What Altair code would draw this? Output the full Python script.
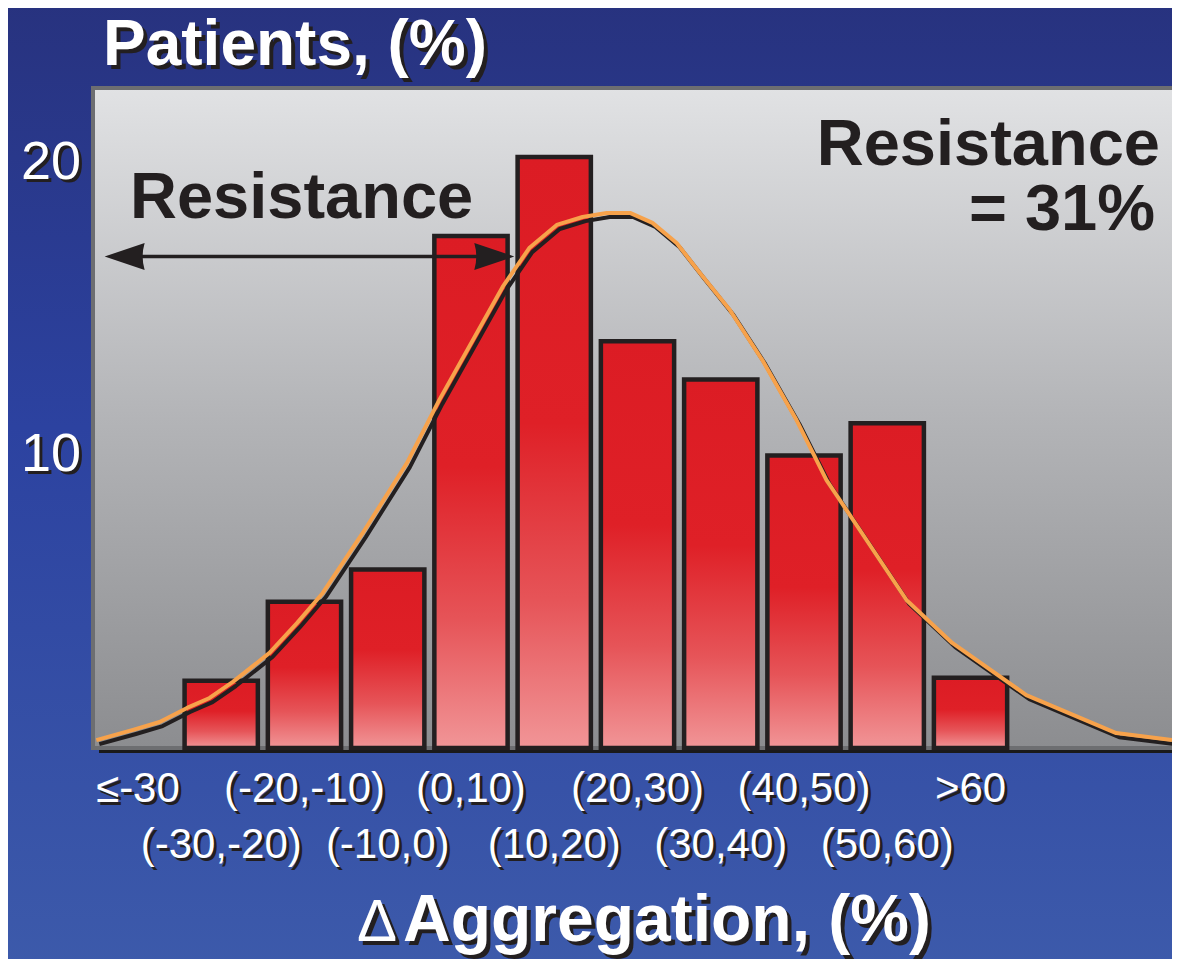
import altair as alt
import pandas as pd

# ---------------- data ----------------
categories = ["≤-30", "(-30,-20)", "(-20,-10)", "(-10,0)", "(0,10)", "(10,20)",
              "(20,30)", "(30,40)", "(40,50)", "(50,60)", ">60"]
bin_centers = [-35, -25, -15, -5, 5, 15, 25, 35, 45, 55, 65]
patients_pct = [0, 2.3, 5.0, 6.1, 17.5, 20.2, 13.9, 12.6, 10.0, 11.1, 2.4]

curve_x = [-40.0, -35.6, -32.4, -29.1, -26.4, -23.6, -19.2, -15.9, -12.8, -8.0,
           -2.7, 1.2, 8.8, 12.0, 15.3, 18.4, 21.3, 24.1, 26.8, 29.7,
           32.5, 36.1, 40.0, 44.1, 47.7, 57.3, 62.8, 71.7, 82.5, 89.2]
curve_y = [0.27, 0.62, 0.89, 1.37, 1.71, 2.26, 3.25, 4.27, 5.30, 7.35,
           9.74, 11.90, 15.76, 17.09, 17.88, 18.15, 18.29, 18.29, 17.95, 17.26,
           16.24, 14.97, 13.26, 11.21, 9.16, 5.06, 3.59, 1.81, 0.51, 0.27]

y_ticks = [10, 20]
arrow_from = -39.0
arrow_to = 10.2
arrow_level = 16.8
resistance_pct = 31

# ---------------- layout ----------------
W, H = 1079, 660
XS = alt.Scale(domain=[-40.4, 89.2], nice=False, zero=False)
YS = alt.Scale(domain=[0, 22.56], nice=False, zero=False)
FONT = "Liberation Sans, Arial, Helvetica, sans-serif"
INK = "#231f20"

bars_df = pd.DataFrame({"label": categories, "center": bin_centers, "pct": patients_pct})
bars_df["row"] = [i % 2 for i in range(len(categories))]
curve_df = pd.DataFrame({"x": curve_x, "y": curve_y, "i": list(range(len(curve_x)))})
ticks_df = pd.DataFrame({"v": y_ticks})
one = pd.DataFrame({"a": [0]})


def grad(stops):
    return alt.LinearGradient(
        gradient="linear", x1=0, x2=0, y1=0, y2=1,
        stops=[alt.GradientStop(offset=o, color=c) for o, c in stops])


blue_bg = alt.Chart(one).mark_rect(
    fill=grad([(0, "#27317c"), (0.45, "#2c42a0"), (1, "#3d5bab")])
).encode(x=alt.value(-120), x2=alt.value(1200), y=alt.value(-120), y2=alt.value(900))

bottom_shadow = alt.Chart(one).mark_rect(color="#1a1a1a").encode(
    x=alt.value(6), x2=alt.value(1200), y=alt.value(658), y2=alt.value(665))

gray_box = alt.Chart(one).mark_rect(
    fill=grad([(0, "#e1e2e4"), (0.5, "#b3b4b7"), (1, "#8c8d90")]),
    stroke="#6d6e71", strokeWidth=4
).encode(x=alt.value(0), x2=alt.value(1200), y=alt.value(0), y2=alt.value(H))

bars = alt.Chart(bars_df).transform_filter("datum.pct > 0").transform_calculate(
    x0="datum.center - 4.4", x1="datum.center + 4.4", base="0"
).mark_bar(
    fill=grad([(0, "#dc1c24"), (0.45, "#df2027"), (0.75, "#e65458"), (1, "#f19597")]),
    stroke=INK, strokeWidth=4.5
).encode(
    x=alt.X("x0:Q", scale=XS, axis=None), x2="x1:Q",
    y=alt.Y("pct:Q", scale=YS, axis=None), y2="base:Q")

curve_shadow = alt.Chart(curve_df).transform_calculate(
    xs="datum.x + 0.36", ys="datum.y - 0.14"
).mark_line(color=INK, strokeWidth=4, strokeJoin="round").encode(
    x=alt.X("xs:Q", scale=XS, axis=None), y=alt.Y("ys:Q", scale=YS, axis=None), order="i:Q")

curve = alt.Chart(curve_df).mark_line(color="#f7a24b", strokeWidth=4, strokeJoin="round").encode(
    x=alt.X("x:Q", scale=XS, axis=None), y=alt.Y("y:Q", scale=YS, axis=None), order="i:Q")

arrow_df = pd.DataFrame({"x": [arrow_from + 4.2], "x2": [arrow_to - 4.2], "y": [arrow_level]})
arrow_line = alt.Chart(arrow_df).mark_rule(color=INK, strokeWidth=3.5).encode(
    x=alt.X("x:Q", scale=XS, axis=None), x2="x2:Q", y=alt.Y("y:Q", scale=YS, axis=None))
heads_df = pd.DataFrame({"x": [arrow_from + 2.4, arrow_to - 2.4], "y": [arrow_level] * 2,
                         "side": ["l", "r"]})
head_l = alt.Chart(heads_df).transform_filter("datum.side == 'l'").mark_point(
    shape="M-1,0L1,-0.68Q0.8,0 1,0.68Z", size=1600, filled=True, color=INK, opacity=1
).encode(x=alt.X("x:Q", scale=XS, axis=None), y=alt.Y("y:Q", scale=YS, axis=None))
head_r = alt.Chart(heads_df).transform_filter("datum.side == 'r'").mark_point(
    shape="M1,0L-1,-0.68Q-0.8,0 -1,0.68Z", size=1600, filled=True, color=INK, opacity=1
).encode(x=alt.X("x:Q", scale=XS, axis=None), y=alt.Y("y:Q", scale=YS, axis=None))


def shadowed(chart_fn, off=3):
    return [chart_fn(INK, off), chart_fn("white", 0)]


# y tick labels
def ytick(col, off):
    return alt.Chart(ticks_df).mark_text(
        font=FONT, fontSize=54, color=col, align="right", baseline="middle", dx=off, dy=off
    ).encode(x=alt.value(-12), y=alt.Y("v:Q", scale=YS, axis=None), text="v:Q")


# x category labels, two staggered rows
def xrow(row, ypix):
    def f(col, off):
        return alt.Chart(bars_df).transform_filter(f"datum.row == {row}").mark_text(
            font=FONT, fontSize=42, color=col, align="center", baseline="alphabetic", dx=off, dy=off
        ).encode(x=alt.X("center:Q", scale=XS, axis=None), y=alt.value(ypix), text="label:N")
    return f


def free_text(txt, xpix, ypix, size, weight="bold", align="left"):
    def f(col, off):
        return alt.Chart(one).mark_text(
            text=txt, font=FONT, fontSize=size, fontWeight=weight, color=col,
            align=align, baseline="alphabetic", dx=off, dy=off
        ).encode(x=alt.value(xpix), y=alt.value(ypix))
    return f


def ink_text(txt, xpix, ypix, size, align):
    return alt.Chart(one).mark_text(
        text=txt, font=FONT, fontSize=size, fontWeight="bold", color=INK,
        align=align, baseline="alphabetic"
    ).encode(x=alt.value(xpix), y=alt.value(ypix))


layers = [blue_bg, bottom_shadow, gray_box, bars, curve_shadow, curve,
          arrow_line, head_l, head_r,
          ink_text("Resistance", 37, 130, 65, "left"),
          ink_text("Resistance", 1067, 77, 65, "right"),
          ink_text(f"= {resistance_pct}%", 1062, 142, 65, "right")]
layers += shadowed(ytick)
layers += shadowed(xrow(0, 714))
layers += shadowed(xrow(1, 770))
layers += shadowed(free_text("Patients, (%)", 10, -23, 64), off=4)
layers += shadowed(free_text("\u0394", 264, 853, 60, weight="normal"), off=4)
layers += shadowed(free_text("Aggregation, (%)", 310, 853, 66), off=4)

chart = alt.layer(*layers).properties(
    width=W, height=H,
    autosize=alt.AutoSizeParams(type="none"),
    padding={"left": 85, "top": 80, "right": 0, "bottom": 211},
    background="#2c42a0",
).configure_view(strokeWidth=0)

chart.save("out.html", embed_options={"renderer": "svg", "actions": False})
